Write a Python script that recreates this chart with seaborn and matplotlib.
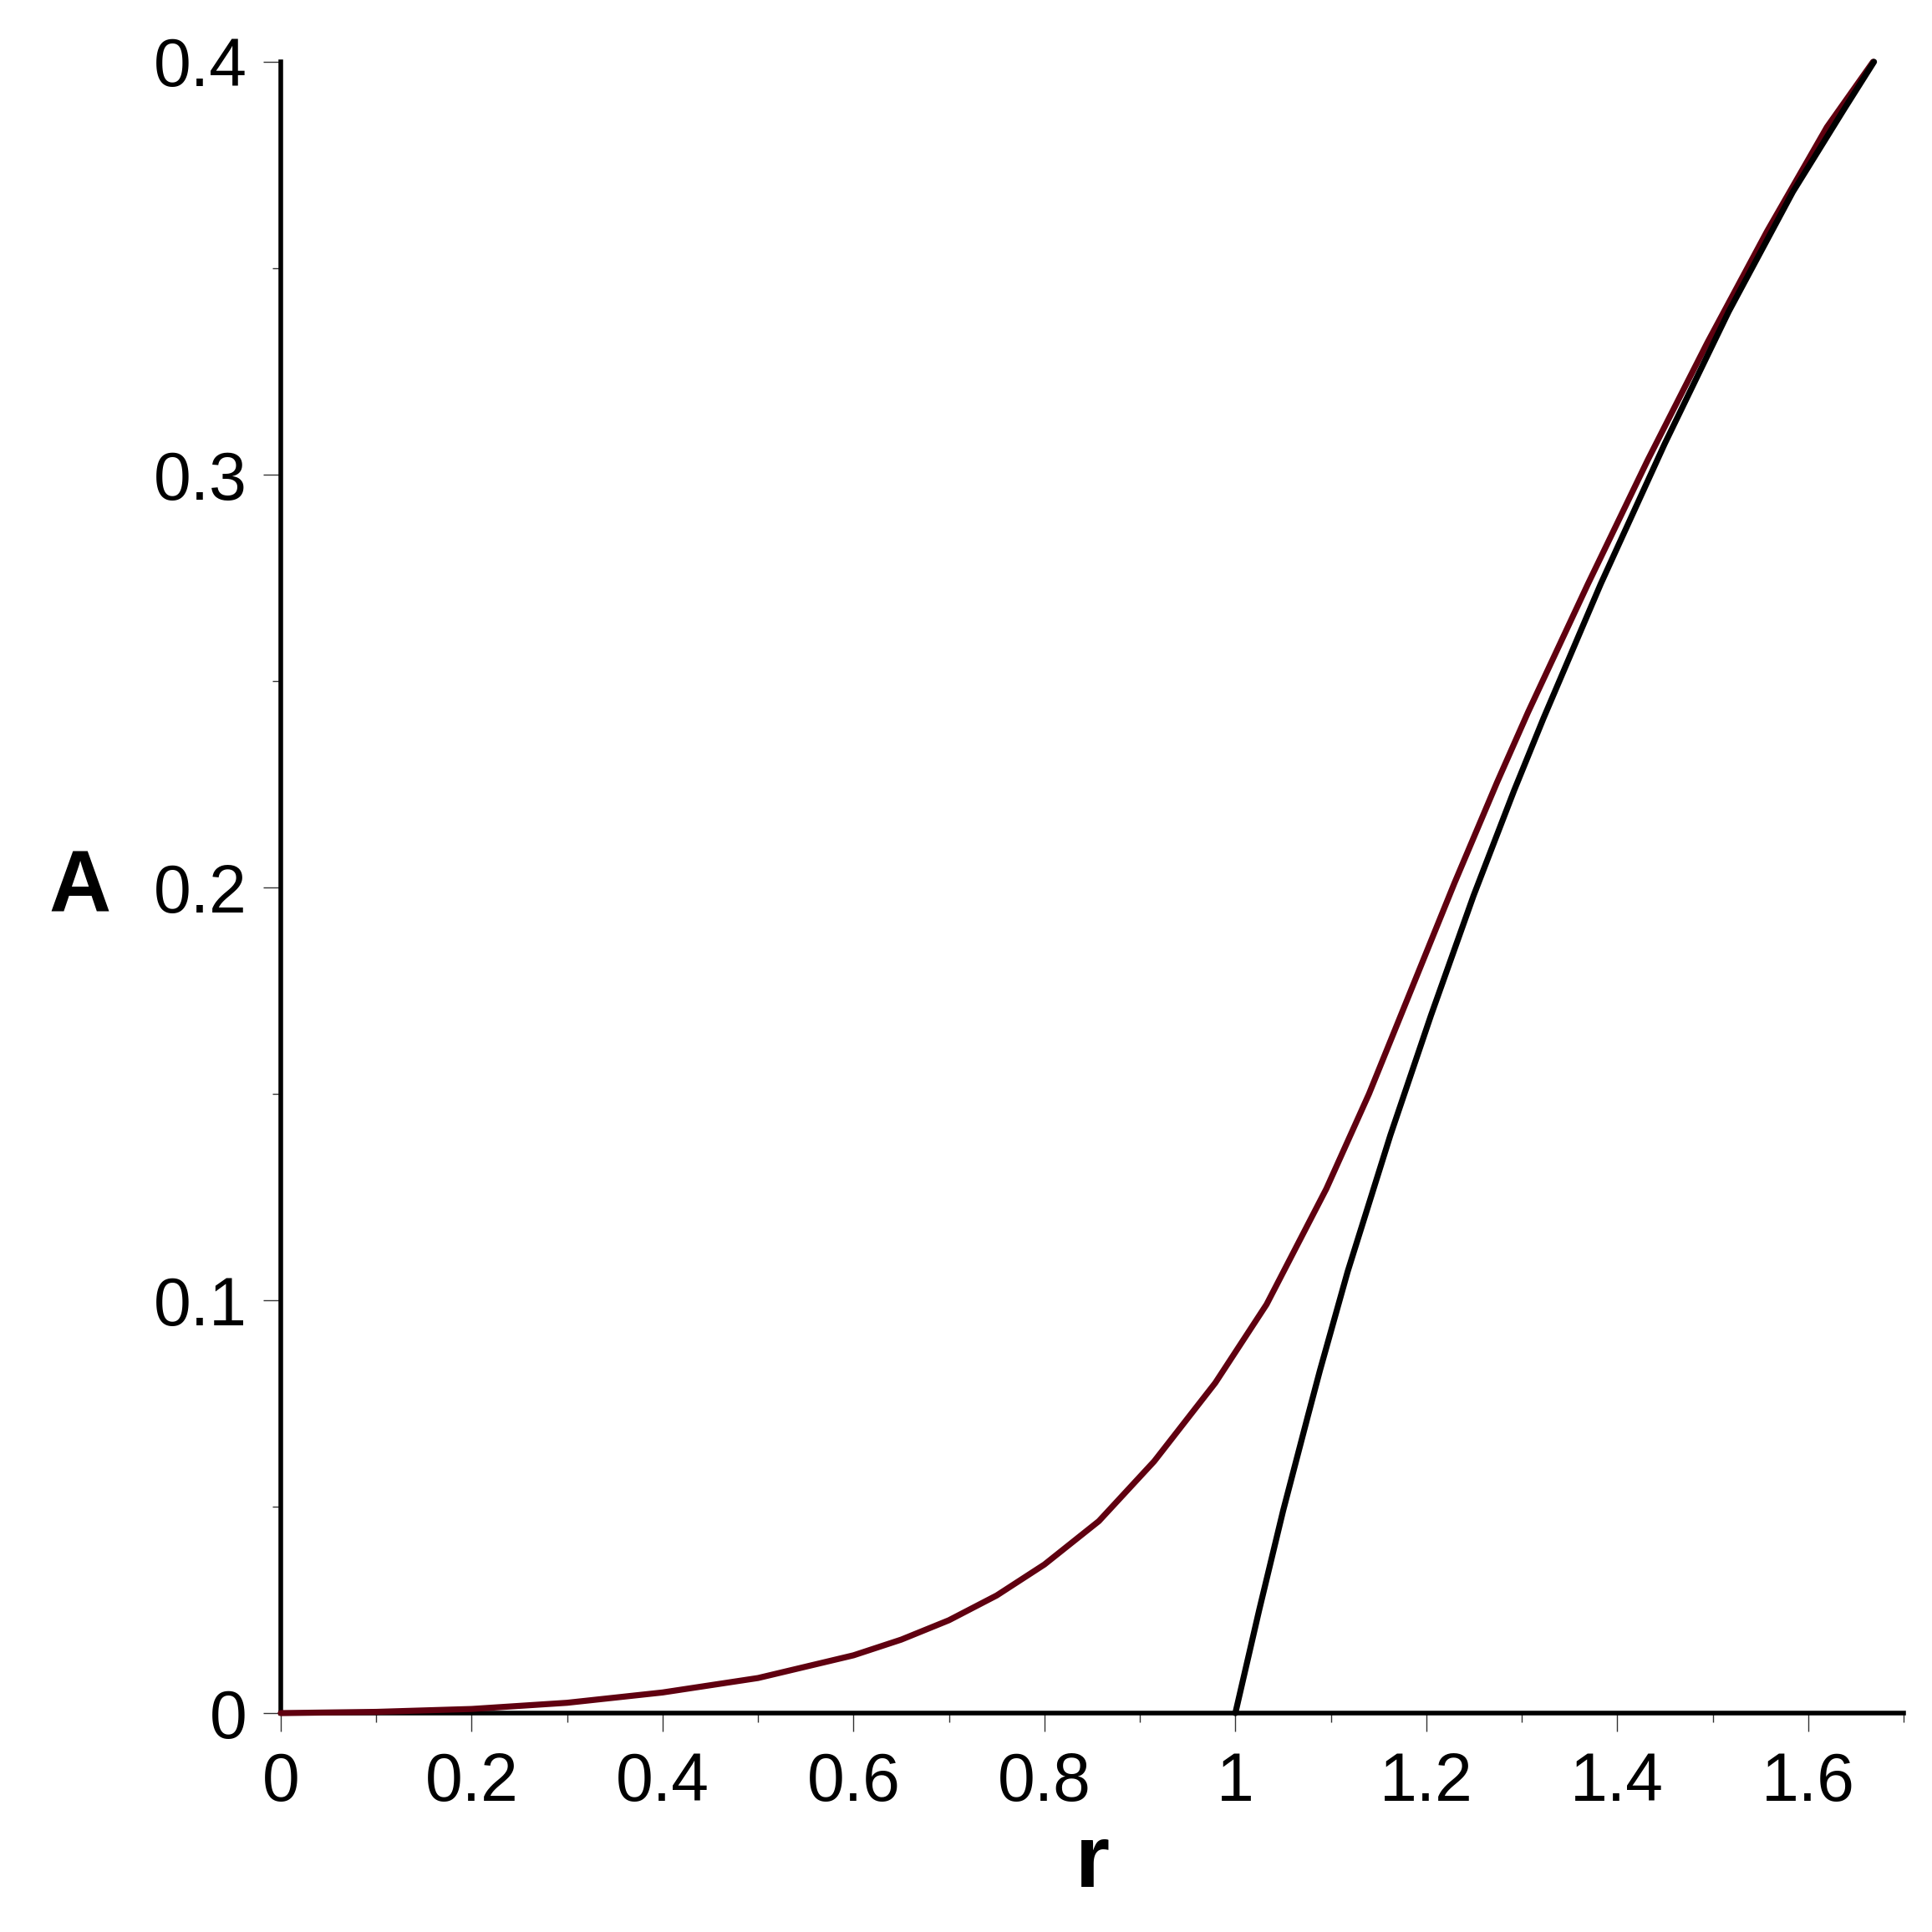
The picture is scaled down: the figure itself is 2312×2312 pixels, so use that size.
import pandas as pd
import seaborn as sns
import matplotlib.pyplot as plt
from matplotlib.ticker import MultipleLocator, FormatStrFormatter

# red curve (full solution)
r_full = [0.0, 0.1, 0.2, 0.3, 0.4, 0.5, 0.6, 0.65, 0.7, 0.75, 0.8, 0.857, 0.915,
          0.979, 1.0327, 1.0953, 1.140, 1.1847, 1.2294, 1.2742, 1.3067, 1.3693,
          1.4319, 1.4945, 1.5571, 1.6197, 1.668]
A_full = [0.0, 0.0003, 0.001, 0.0025, 0.005, 0.0085, 0.014, 0.0178, 0.0225, 0.0285,
          0.036, 0.0465, 0.061, 0.080, 0.099, 0.127, 0.150, 0.1755, 0.201, 0.2255,
          0.2425, 0.2735, 0.3035, 0.332, 0.359, 0.3842, 0.400]

# black curve (approximation, starts at r = 1)
r_approx = [1.0, 1.025, 1.05, 1.076, 1.0886, 1.1177, 1.1624, 1.2049, 1.2495, 1.292,
            1.3228, 1.3827, 1.4498, 1.5168, 1.584, 1.6376, 1.669]
A_approx = [0.0, 0.025, 0.049, 0.072, 0.083, 0.107, 0.140, 0.169, 0.198, 0.2235,
            0.241, 0.2735, 0.3075, 0.3395, 0.3685, 0.3885, 0.400]

full = pd.DataFrame({"r": r_full, "A": A_full})
approx = pd.DataFrame({"r": r_approx, "A": A_approx})

sns.set_style("white")
plt.rcParams['font.family'] = ['Liberation Sans', 'DejaVu Sans']
plt.rcParams['text.color'] = 'black'
plt.rcParams['axes.labelcolor'] = 'black'
plt.rcParams['xtick.labelcolor'] = 'black'
plt.rcParams['ytick.labelcolor'] = 'black'

fig = plt.figure(figsize=(23.12, 23.12), dpi=100)
ax = fig.add_axes([0.1453, 0.1133, 0.8400, 0.8547])

sns.lineplot(full, x="r", y="A", ax=ax, color="#600010", linewidth=5.2,
             clip_on=False, sort=True)
sns.lineplot(approx, x="r", y="A", ax=ax, color="black", linewidth=5.2,
             clip_on=False, sort=True)

ax.set_xlim(0, 1.7)
ax.set_ylim(0, 0.4)

# axes through the origin, Maple style
for s in ["top", "right"]:
    ax.spines[s].set_visible(False)
for s in ["left", "bottom"]:
    ax.spines[s].set_linewidth(4)
    ax.spines[s].set_color("black")
    ax.spines[s].set_zorder(1)

ax.xaxis.set_major_locator(MultipleLocator(0.2))
ax.xaxis.set_minor_locator(MultipleLocator(0.1))
ax.yaxis.set_major_locator(MultipleLocator(0.1))
ax.yaxis.set_minor_locator(MultipleLocator(0.05))
ax.xaxis.set_major_formatter(FormatStrFormatter('%g'))
ax.yaxis.set_major_formatter(FormatStrFormatter('%g'))

ax.tick_params(axis="x", which="major", direction="out", length=16, width=1,
               color="#333333", labelsize=58, pad=17, bottom=True)
ax.tick_params(axis="x", which="minor", direction="out", length=8, width=1,
               color="#333333", bottom=True)
ax.tick_params(axis="y", which="major", direction="out", length=15, width=1,
               color="#333333", labelsize=58, pad=14, left=True)
ax.tick_params(axis="y", which="minor", direction="out", length=7, width=1,
               color="#333333", left=True)

ax.set_xlabel("r", fontsize=76, fontweight="bold")
ax.xaxis.set_label_coords(0.5, -0.105)
ax.xaxis.label.set_va("baseline")
ax.set_ylabel("A", fontsize=74, fontweight="bold", rotation=0)
ax.yaxis.set_label_coords(-0.124, 0.499)
ax.yaxis.label.set_va("center")
ax.yaxis.label.set_ha("center")

plt.savefig("out.png", dpi=100)
